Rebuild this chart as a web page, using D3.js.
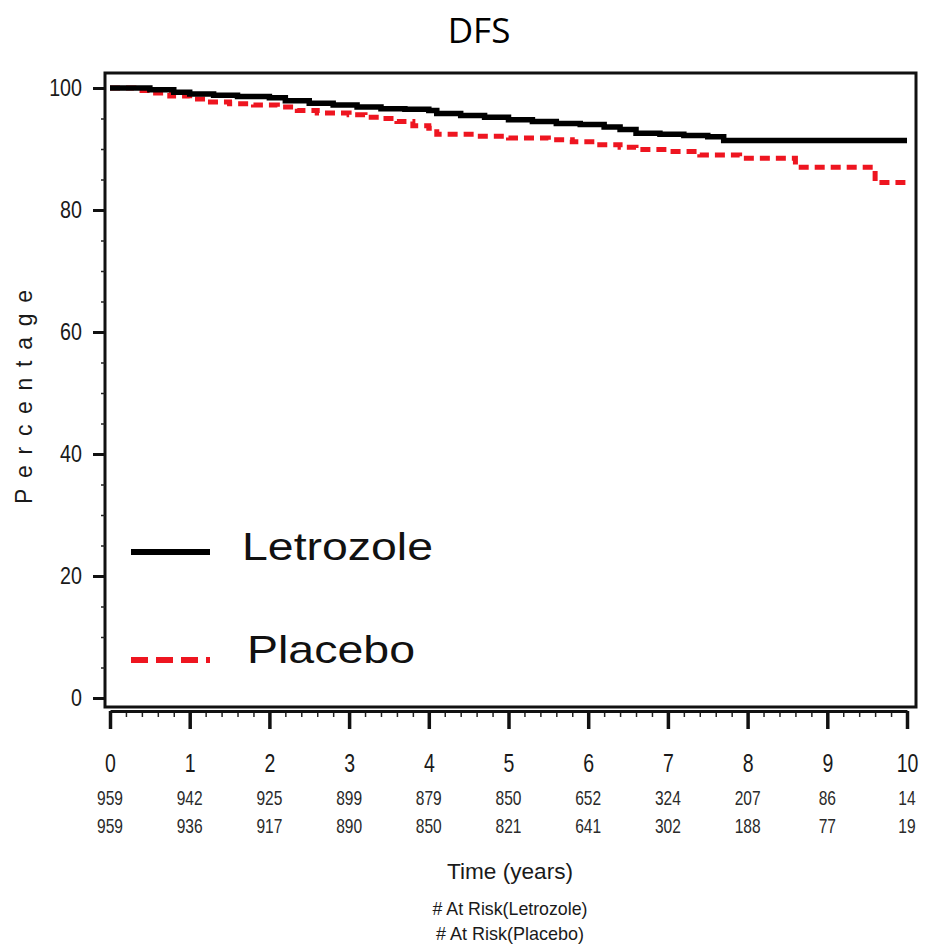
<!DOCTYPE html>
<html>
<head>
<meta charset="utf-8">
<script src="https://cdn.jsdelivr.net/npm/d3@7"></script>
<style>
  html, body { margin: 0; padding: 0; background: #fff; }
  svg text { font-family: "Liberation Sans", Arial, sans-serif; fill: #111; }
</style>
</head>
<body>
<svg id="chart" width="925" height="946"></svg>
<script>
// ---- Data ----
const title = "DFS";
const seriesNames = ["Letrozole", "Placebo"];

const letrozoleTime  = [0, 0.5, 0.8, 1.0, 1.3, 1.6, 2.0, 2.2, 2.5, 2.8, 3.1, 3.4, 3.7, 4.0, 4.1, 4.4, 4.7, 5.0, 5.3, 5.6, 5.9, 6.2, 6.4, 6.6, 6.9, 7.2, 7.5, 7.7, 10.0];
const letrozoleValue = [100, 99.7, 99.3, 99.0, 98.8, 98.6, 98.4, 97.9, 97.5, 97.2, 96.9, 96.6, 96.5, 96.3, 95.8, 95.5, 95.2, 94.8, 94.5, 94.2, 94.0, 93.6, 93.2, 92.6, 92.4, 92.2, 92.0, 91.4, 91.4];

const placeboTime  = [0, 0.3, 0.5, 0.75, 1.0, 1.2, 1.5, 1.8, 2.1, 2.35, 2.6, 3.0, 3.2, 3.4, 3.6, 3.8, 4.0, 4.1, 4.6, 5.0, 5.5, 5.8, 6.1, 6.4, 6.6, 7.0, 7.4, 7.9, 8.6, 9.6, 9.98];
const placeboValue = [100, 99.6, 99.2, 98.7, 98.2, 97.7, 97.4, 97.2, 96.9, 96.3, 95.9, 95.6, 95.2, 95.0, 94.5, 93.8, 93.4, 92.4, 92.1, 91.8, 91.5, 91.2, 90.7, 90.3, 89.9, 89.6, 89.0, 88.5, 87.0, 84.5, 84.5];

const xTicks = [0, 1, 2, 3, 4, 5, 6, 7, 8, 9, 10];
const yTicks = [0, 20, 40, 60, 80, 100];
const atRiskLetrozole = [959, 942, 925, 899, 879, 850, 652, 324, 207, 86, 14];
const atRiskPlacebo   = [959, 936, 917, 890, 850, 821, 641, 302, 188, 77, 19];

const xLabel = "Time (years)";
const yLabel = "Percentage";
const atRiskLabels = ["# At Risk(Letrozole)", "# At Risk(Placebo)"];

// ---- Drawing ----
const svg = d3.select("#chart");
const x = d3.scaleLinear().domain([0, 10]).range([110, 907]);
const y = d3.scaleLinear().domain([0, 100]).range([698, 88]);

function squeeze(sel, factor) {
  sel.each(function () {
    const w = this.getComputedTextLength();
    d3.select(this).attr("textLength", w * factor).attr("lengthAdjust", "spacingAndGlyphs");
  });
}

// Title
svg.append("text")
  .attr("x", 479).attr("y", 43)
  .attr("text-anchor", "middle")
  .style("font-family", "'Open Sans', 'Noto Sans', sans-serif")
  .style("font-size", "35px")
  .style("fill", "#000")
  .text(title);

// Plot box
svg.append("rect")
  .attr("x", 105).attr("y", 73)
  .attr("width", 811).attr("height", 634)
  .attr("fill", "none").attr("stroke", "#111").attr("stroke-width", 3);

// Y axis minor ticks
const yMinor = d3.range(0, 101, 5).filter(v => v % 20 !== 0);
const yAxisMinor = svg.append("g").attr("transform", "translate(105,0)")
  .call(d3.axisLeft(y).tickValues(yMinor).tickSize(4).tickFormat(""));
yAxisMinor.select(".domain").remove();
yAxisMinor.selectAll("line").attr("stroke", "#222").attr("stroke-width", 1.5);

// Y axis major
const yAxis = svg.append("g").attr("transform", "translate(105,0)")
  .call(d3.axisLeft(y).tickValues(yTicks).tickSize(12).tickPadding(11).tickFormat(d3.format("d")));
yAxis.select(".domain").remove();
yAxis.selectAll("line").attr("stroke", "#111").attr("stroke-width", 3);
yAxis.selectAll("text")
  .style("font-family", "'Liberation Sans', Arial, sans-serif")
  .style("font-size", "24px").style("fill", "#1a1a1a");
squeeze(yAxis.selectAll("text"), 0.82);

// X axis minor ticks
const xMinor = d3.range(0, 10.001, 0.2).filter(v => Math.abs(v - Math.round(v)) > 0.01);
const xAxisMinor = svg.append("g").attr("transform", "translate(0,711)")
  .call(d3.axisBottom(x).tickValues(xMinor).tickSize(6).tickFormat(""));
xAxisMinor.select(".domain").remove();
xAxisMinor.selectAll("line").attr("stroke", "#222").attr("stroke-width", 1.5);

// X axis major
const xAxis = svg.append("g").attr("transform", "translate(0,711)")
  .call(d3.axisBottom(x).tickValues(xTicks).tickSizeInner(18).tickSizeOuter(0).tickPadding(25).tickFormat(d3.format("d")));
xAxis.select(".domain").attr("stroke", "#111").attr("stroke-width", 3);
xAxis.selectAll("line").attr("stroke", "#111").attr("stroke-width", 3.5);
xAxis.selectAll("text")
  .style("font-family", "'Liberation Sans', Arial, sans-serif")
  .style("font-size", "25px").style("fill", "#1a1a1a");
squeeze(xAxis.selectAll("text"), 0.78);

// At-risk rows
[atRiskLetrozole, atRiskPlacebo].forEach((row, i) => {
  const t = svg.append("g").selectAll("text").data(row).join("text")
    .attr("x", (d, j) => x(xTicks[j]))
    .attr("y", 805 + i * 28)
    .attr("text-anchor", "middle")
    .style("font-size", "21px").style("fill", "#2a2a2a")
    .text(d => d);
  squeeze(t, 0.74);
});

// Axis titles
svg.append("text")
  .attr("transform", "translate(32,397) rotate(-90)")
  .attr("text-anchor", "middle")
  .style("font-size", "23px").style("fill", "#1a1a1a")
  .attr("textLength", 214).attr("lengthAdjust", "spacing")
  .text(yLabel);

svg.append("text")
  .attr("x", 510).attr("y", 879)
  .attr("text-anchor", "middle")
  .style("font-size", "22px").style("fill", "#1a1a1a")
  .attr("textLength", 126).attr("lengthAdjust", "spacingAndGlyphs")
  .text(xLabel);

atRiskLabels.forEach((lab, i) => {
  svg.append("text")
    .attr("x", 510).attr("y", 915 + i * 25)
    .attr("text-anchor", "middle")
    .style("font-size", "19px").style("fill", "#1a1a1a")
    .attr("textLength", i === 0 ? 155 : 148).attr("lengthAdjust", "spacingAndGlyphs")
    .text(lab);
});

// Curves
const line = d3.line().x(d => x(d[0])).y(d => y(d[1])).curve(d3.curveStepAfter);
const letData = letrozoleTime.map((t, i) => [t, letrozoleValue[i]]);
const plaData = placeboTime.map((t, i) => [t, placeboValue[i]]);

svg.append("path").datum(plaData)
  .attr("d", line).attr("fill", "none")
  .attr("stroke", "#ee1520").attr("stroke-width", 5)
  .attr("stroke-dasharray", "10,6");

svg.append("path").datum(letData)
  .attr("d", line).attr("fill", "none")
  .attr("stroke", "#000").attr("stroke-width", 5.5);

// Legend
const legend = [
  { name: seriesNames[0], color: "#000", dash: null, ly: 552, tx: 242, ty: 560, tl: 191 },
  { name: seriesNames[1], color: "#ee1520", dash: "17,8", ly: 660, tx: 247, ty: 663, tl: 168 }
];
legend.forEach(l => {
  svg.append("line")
    .attr("x1", 131).attr("x2", 210).attr("y1", l.ly).attr("y2", l.ly)
    .attr("stroke", l.color).attr("stroke-width", 6)
    .attr("stroke-dasharray", l.dash);
  svg.append("text")
    .attr("x", l.tx).attr("y", l.ty)
    .style("font-size", "39px").style("fill", "#111")
    .attr("textLength", l.tl).attr("lengthAdjust", "spacingAndGlyphs")
    .text(l.name);
});
</script>
</body>
</html>
